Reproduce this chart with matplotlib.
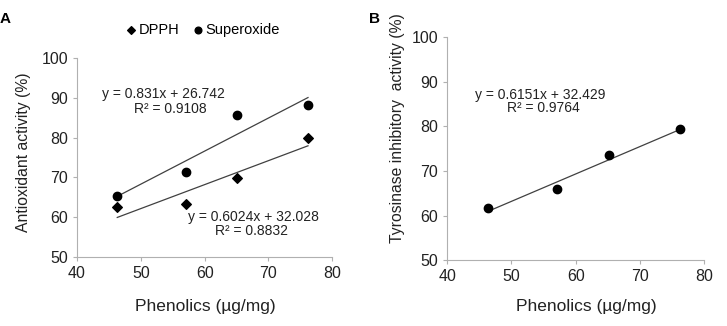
import numpy as np
import matplotlib.pyplot as plt

plt.rcParams['font.family'] = ['Liberation Sans', 'DejaVu Sans']

# ── Data ─────────────────────────────────────────────────────────────────
phenolics = [46.3, 57.1, 65.1, 76.2]
dpph = [62.5, 63.2, 69.9, 80.0]
superoxide = [65.4, 71.3, 85.6, 88.3]
tyrosinase = [61.6, 65.9, 73.6, 79.3]

fit_sup = (0.831, 26.742)
fit_dpph = (0.6024, 32.028)
fit_tyr = (0.6151, 32.429)

xticks = [40, 50, 60, 70, 80]
yticks = [50, 60, 70, 80, 90, 100]

SPINE = "#b0b0b0"
LINE = "#404040"
TXT = "#222222"

fig = plt.figure(figsize=(7.27, 3.26), dpi=100, facecolor="white")
axA = fig.add_axes([0.106, 0.212, 0.351, 0.610])
axB = fig.add_axes([0.615, 0.202, 0.354, 0.684])


def style(ax):
    ax.set_xlim(40, 80)
    ax.set_ylim(50, 100)
    ax.set_xticks(xticks)
    ax.set_yticks(yticks)
    for s in ['top', 'right']:
        ax.spines[s].set_visible(False)
    for s in ['left', 'bottom']:
        ax.spines[s].set_color(SPINE)
        ax.spines[s].set_linewidth(0.8)
    ax.tick_params(colors=SPINE, labelcolor=TXT, labelsize=11.5, length=3, width=0.8)


def trend(ax, coef):
    xs = np.array([min(phenolics), max(phenolics)])
    ax.plot(xs, coef[0] * xs + coef[1], color=LINE, lw=0.9, zorder=2)


# ── Panel A ──────────────────────────────────────────────────────────────
style(axA)
trend(axA, fit_sup)
trend(axA, fit_dpph)
axA.scatter(phenolics, dpph, marker='D', s=24, color='black', zorder=3, label='DPPH')
axA.scatter(phenolics, superoxide, marker='o', s=36, color='black', zorder=3, label='Superoxide')
axA.text(53.5, 91.0, "y = 0.831x + 26.742", ha='center', va='center', fontsize=10, color=TXT)
axA.text(54.6, 87.3, "R² = 0.9108", ha='center', va='center', fontsize=10, color=TXT)
axA.text(67.6, 60.1, "y = 0.6024x + 32.028", ha='center', va='center', fontsize=10, color=TXT)
axA.text(67.4, 56.4, "R² = 0.8832", ha='center', va='center', fontsize=10, color=TXT)
axA.legend(loc='lower center', bbox_to_anchor=(0.49, 1.04), ncol=2, frameon=False,
           fontsize=10.5, handletextpad=0.0, columnspacing=0.8, markerscale=0.8,
           handlelength=1.0)
fig.text(0.033, 0.534, "Antioxidant activity (%)", rotation=90, ha='center', va='center',
         fontsize=11.3, color=TXT)
fig.text(0.282, 0.045, "Phenolics (µg/mg)", ha='center', fontsize=12.5, color=TXT)
fig.text(0.0, 0.962, "A", fontsize=11, fontweight='bold', color='black', va='top')

# ── Panel B ──────────────────────────────────────────────────────────────
style(axB)
trend(axB, fit_tyr)
axB.scatter(phenolics, tyrosinase, marker='o', s=36, color='black', zorder=3)
axB.text(54.4, 87.1, "y = 0.6151x + 32.429", ha='center', va='center', fontsize=10, color=TXT)
axB.text(55.0, 84.1, "R² = 0.9764", ha='center', va='center', fontsize=10, color=TXT)
fig.text(0.547, 0.607, "Tyrosinase inhibitory  activity (%)", rotation=90, ha='center',
         va='center', fontsize=11.3, color=TXT)
fig.text(0.807, 0.045, "Phenolics (µg/mg)", ha='center', fontsize=12.5, color=TXT)
fig.text(0.508, 0.962, "B", fontsize=11, fontweight='bold', color='black', va='top')

fig.savefig("out.png", dpi=100, facecolor="white")
